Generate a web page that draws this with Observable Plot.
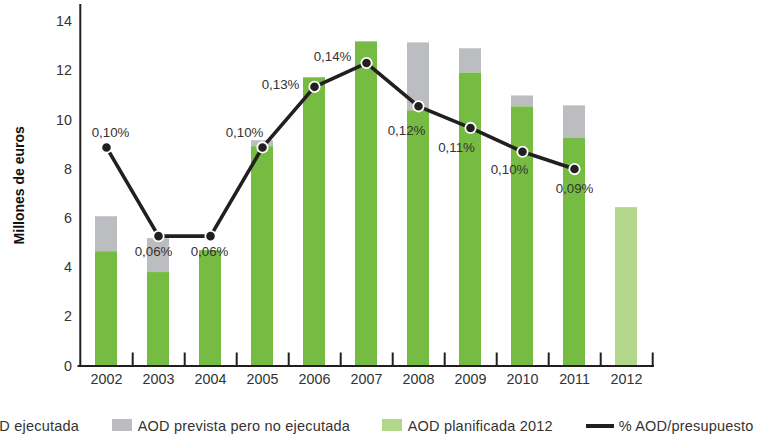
<!DOCTYPE html>
<html><head><meta charset="utf-8">
<script src="https://cdn.jsdelivr.net/npm/d3@7"></script>
<script src="https://cdn.jsdelivr.net/npm/@observablehq/plot@0.6"></script>
<style>
body{margin:0;background:#fff;font-family:"Liberation Sans",Arial,sans-serif;}
#chart{width:762px;height:435px;overflow:hidden;position:relative}
.legend{position:relative;height:35px;width:762px;font-size:14.5px;letter-spacing:0.2px;color:#333;}
.item{position:absolute;top:18.5px;display:flex;align-items:flex-start;line-height:15px;white-space:nowrap}
.sw{width:20px;height:12px;margin-top:0.5px;margin-right:6px;flex:none}
.ln{width:28px;height:3.5px;background:#231f20;margin-top:5.5px;margin-right:5px;flex:none}
</style></head>
<body>
<div id="chart"></div>
<script>
// ---- data ----
const years = ["2002","2003","2004","2005","2006","2007","2008","2009","2010","2011","2012"];
const aodEjecutada   = [4.65, 3.80, 4.69, 8.92, 11.72, 13.18, 10.38, 11.92, 10.54, 9.25, null];
const aodNoEjecutada = [1.42, 1.38, 0,    0.24, 0,     0,     2.76,  0.98,  0.44,  1.33, null];
const aodPlanificada = [null, null, null, null, null,  null,  null,  null,  null,  null, 6.44];
const pctYears = ["2002","2003","2004","2005","2006","2007","2008","2009","2010","2011"];
const pctPresupuesto = [0.101, 0.060, 0.060, 0.101, 0.129, 0.140, 0.120, 0.110, 0.099, 0.091];
const yTicks = [0, 2, 4, 6, 8, 10, 12, 14];
const seriesNames = ["AOD ejecutada", "AOD prevista pero no ejecutada", "AOD planificada 2012", "% AOD/presupuesto"];

// ---- style / layout ----
const colors = ["#76bc43", "#bcbdc0", "#b2d68a"];
const ink = "#231f20";
const pctToAxis = 88; // secondary (unlabelled) scale: 1 % of budget = 88 M€ on the drawn axis
const W = 762, H = 400, mL = 77.5, mR = 108, mT = 4, mB = 34.5;
const step = (W - mL - mR) / years.length;
const labelOffset = {"2002":[4,-15],"2003":[-5,16],"2004":[-1,16],"2005":[-18,-15],"2006":[-34,-2],
  "2007":[-34,-6],"2008":[-12,24],"2009":[-14,20],"2010":[-13,18],"2011":[0,20]};

const bars = [];
years.forEach((y, i) => {
  if (aodEjecutada[i] != null) bars.push({year: y, series: seriesNames[0], value: aodEjecutada[i]});
  if (aodNoEjecutada[i] != null) bars.push({year: y, series: seriesNames[1], value: aodNoEjecutada[i]});
  if (aodPlanificada[i] != null) bars.push({year: y, series: seriesNames[2], value: aodPlanificada[i]});
});
const pts = pctYears.map((y, i) => ({year: y, pct: pctPresupuesto[i]}));
const fmt = v => v.toFixed(2).replace(".", ",") + "%";

const chart = Plot.plot({
  width: W, height: H, marginLeft: mL, marginRight: mR, marginTop: mT, marginBottom: mB,
  style: {fontFamily: '"Liberation Sans", Arial, sans-serif', fontSize: "14px", color: "#333", background: "#fff"},
  x: {domain: years, paddingInner: 0.58, paddingOuter: 0.29, label: null},
  y: {domain: [0, 14.7], label: null},
  color: {domain: seriesNames.slice(0, 3), range: colors},
  marks: [
    Plot.barY(bars, {x: "year", y: "value", fill: "series", order: seriesNames}),
    Plot.ruleY([0], {stroke: ink, strokeWidth: 2}),
    Plot.ruleX([years[0]], {x: d => d, dx: -step / 2, stroke: ink, strokeWidth: 2}),
    Plot.ruleX(years, {x: d => d, dx: step / 2, y1: 0, y2: 0, insetTop: -13, stroke: ink, strokeWidth: 2}),
    Plot.axisX({tickSize: 0, tickPadding: 7.5, fontSize: 14.3, fill: "#333"}),
    Plot.axisY({ticks: yTicks, tickSize: 0, tickPadding: 6, fontSize: 14.3, fill: "#333",
      label: "Millones de euros", labelAnchor: "center", labelArrow: "none", labelOffset: 64}),
    Plot.lineY(pts, {x: "year", y: d => d.pct * pctToAxis, stroke: ink, strokeWidth: 3.6}),
    Plot.dot(pts, {x: "year", y: d => d.pct * pctToAxis, r: 5.2, fill: ink, stroke: "#fff", strokeWidth: 1.8}),
    ...pts.map(p => Plot.text([p], {x: "year", y: d => d.pct * pctToAxis, text: d => fmt(d.pct),
      dx: labelOffset[p.year][0], dy: labelOffset[p.year][1], fontSize: 13.3, fill: "#333"}))
  ]
});
// axis label styling
chart.querySelectorAll("[aria-label='y-axis label'] text").forEach(t => {
  t.setAttribute("font-weight", "bold"); t.setAttribute("fill", "#111"); t.setAttribute("font-size", "14");
});
const root = document.getElementById("chart");
root.appendChild(chart);

const legend = document.createElement("div");
legend.className = "legend";
const items = [
  {left: -48, sw: colors[0], text: seriesNames[0]},
  {left: 111.7, sw: colors[1], text: seriesNames[1]},
  {left: 381.7, sw: colors[2], text: seriesNames[2]},
  {left: 585.7, line: true, text: seriesNames[3]}
];
items.forEach(it => {
  const d = document.createElement("div");
  d.className = "item"; d.style.left = it.left + "px";
  const s = document.createElement("span");
  if (it.line) s.className = "ln"; else { s.className = "sw"; s.style.background = it.sw; }
  const t = document.createElement("span"); t.textContent = it.text;
  d.appendChild(s); d.appendChild(t); legend.appendChild(d);
});
root.appendChild(legend);
</script>
</body></html>
